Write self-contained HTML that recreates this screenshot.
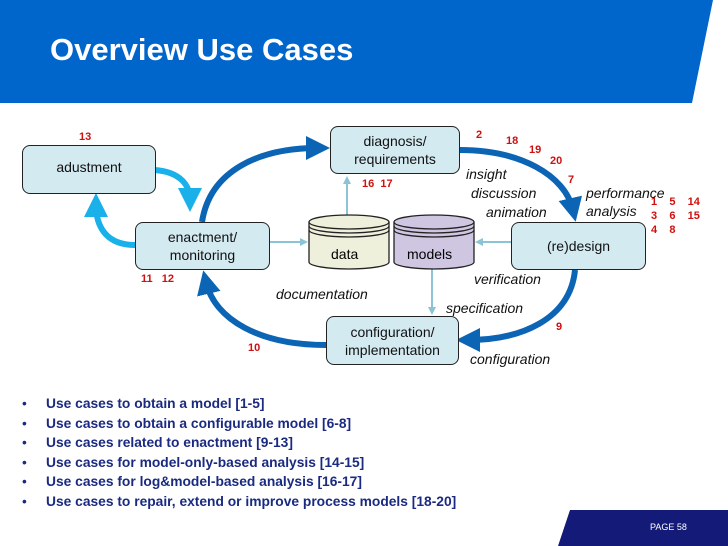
<!DOCTYPE html><html><head><style>
body{margin:0;width:728px;height:546px;background:#fff;overflow:hidden;font-family:"Liberation Sans",Arial,sans-serif;position:relative}
.t{position:absolute;white-space:nowrap}
.r{color:#d01010;font-size:11px;font-weight:bold}
.i{font-style:italic;font-size:14px;color:#111}
.box{position:absolute;background:#d3eaf1;border:1.5px solid #222;border-radius:8px;box-sizing:border-box;display:flex;align-items:center;justify-content:center;text-align:center;font-size:14px;line-height:18px;color:#111}
ul{position:absolute;left:22px;top:396px;margin:0;padding:0;list-style:none;font-size:13.8px;font-weight:bold;color:#1a2a80}
li{height:19.6px;position:relative;padding-left:24px}
li:before{content:"•";position:absolute;left:0;color:#1a2a80;font-weight:normal}
</style></head><body>
<svg width="728" height="546" style="position:absolute;left:0;top:0">
<polygon points="0,0 713,0 692,103 0,103" fill="#0066cc"/>
<polygon points="570,510 728,510 728,546 558,546" fill="#141a78"/>
<defs>
<marker id="a" markerWidth="4" markerHeight="4" refX="2" refY="2" orient="auto" markerUnits="strokeWidth"><path d="M0,0L4,2L0,4z" fill="#0b64b4"/></marker>
<marker id="b" markerWidth="4" markerHeight="4" refX="2" refY="2" orient="auto" markerUnits="strokeWidth"><path d="M0,0L4,2L0,4z" fill="#1ab0ea"/></marker>
<marker id="c" markerWidth="8" markerHeight="8" refX="6" refY="4" orient="auto" markerUnits="userSpaceOnUse"><path d="M0,0L8,4L0,8z" fill="#8cc4d6"/></marker>
</defs>
<g fill="none" stroke="#0b64b4" stroke-width="6">
<path d="M202,222 C210,170 260,148 318,148" marker-end="url(#a)"/>
<path d="M460,150 C520,150 565,175 573,210" marker-end="url(#a)"/>
<path d="M575,270 C570,320 520,340 468,340" marker-end="url(#a)"/>
<path d="M326,345 C260,345 215,320 206,282" marker-end="url(#a)"/>
</g>
<g fill="none" stroke="#1ab0ea" stroke-width="6">
<path d="M155,170 C180,172 190,185 190,200" marker-end="url(#b)"/>
<path d="M135,245 C105,245 96,225 96,205" marker-end="url(#b)"/>
</g>
<g stroke="#8cc4d6" stroke-width="2" fill="none">
<path d="M347,215 L347,178" marker-end="url(#c)"/>
<path d="M269,242 L306,242" marker-end="url(#c)"/>
<path d="M511,242 L477,242" marker-end="url(#c)"/>
<path d="M432,268 L432,313" marker-end="url(#c)"/>
</g>
<g stroke="#222" stroke-width="1.3">
<path d="M309,222 L309,262 A40,7 0 0 0 389,262 L389,222" fill="#eef0dc"/>
<ellipse cx="349" cy="222" rx="40" ry="7" fill="#eef0dc"/>
<path d="M309,226 A40,7 0 0 0 389,226 M309,230 A40,7 0 0 0 389,230" fill="none"/>
<path d="M394,222 L394,262 A40,7 0 0 0 474,262 L474,222" fill="#cfc6e2"/>
<ellipse cx="434" cy="222" rx="40" ry="7" fill="#cfc6e2"/>
<path d="M394,226 A40,7 0 0 0 474,226 M394,230 A40,7 0 0 0 474,230" fill="none"/>
</g>
</svg>
<div class="t" style="left:50px;top:32px;font-size:31px;font-weight:bold;color:#fff">Overview Use Cases</div>
<div class="t" style="left:650px;top:522px;font-size:9px;color:#fff">PAGE 58</div>
<div class="box" style="left:22px;top:145px;width:134px;height:49px;padding-bottom:6px">adustment</div>
<div class="box" style="left:135px;top:222px;width:135px;height:48px">enactment/<br>monitoring</div>
<div class="box" style="left:330px;top:126px;width:130px;height:48px">diagnosis/<br>requirements</div>
<div class="box" style="left:511px;top:222px;width:135px;height:48px">(re)design</div>
<div class="box" style="left:326px;top:316px;width:133px;height:49px">configuration/<br>implementation</div>
<div class="t" style="left:331px;top:246px;font-size:14px">data</div>
<div class="t" style="left:407px;top:246px;font-size:14px">models</div>
<div class="t r" style="left:79px;top:131px">13</div>
<div class="t r" style="left:141px;top:273px">11&nbsp;&nbsp;&nbsp;12</div>
<div class="t r" style="left:362px;top:178px">16&nbsp;&nbsp;17</div>
<div class="t r" style="left:476px;top:129px">2</div>
<div class="t r" style="left:506px;top:135px">18</div>
<div class="t r" style="left:529px;top:144px">19</div>
<div class="t r" style="left:550px;top:155px">20</div>
<div class="t r" style="left:568px;top:174px">7</div>
<div class="t r" style="left:651px;top:195px;line-height:14px">1&nbsp;&nbsp;&nbsp;&nbsp;5&nbsp;&nbsp;&nbsp;&nbsp;14<br>3&nbsp;&nbsp;&nbsp;&nbsp;6&nbsp;&nbsp;&nbsp;&nbsp;15<br>4&nbsp;&nbsp;&nbsp;&nbsp;8</div>
<div class="t r" style="left:556px;top:321px">9</div>
<div class="t r" style="left:248px;top:342px">10</div>
<div class="t i" style="left:466px;top:166px">insight</div>
<div class="t i" style="left:471px;top:185px">discussion</div>
<div class="t i" style="left:486px;top:204px">animation</div>
<div class="t i" style="left:586px;top:184px;line-height:18px">performance<br>analysis</div>
<div class="t i" style="left:474px;top:271px">verification</div>
<div class="t i" style="left:446px;top:300px">specification</div>
<div class="t i" style="left:276px;top:286px">documentation</div>
<div class="t i" style="left:470px;top:351px">configuration</div>
<ul>
<li>Use cases to obtain a model [1-5]</li>
<li>Use cases to obtain a configurable model [6-8]</li>
<li>Use cases related to enactment [9-13]</li>
<li>Use cases for model-only-based analysis [14-15]</li>
<li>Use cases for log&amp;model-based analysis [16-17]</li>
<li>Use cases to repair, extend or improve process models [18-20]</li>
</ul>
</body></html>
